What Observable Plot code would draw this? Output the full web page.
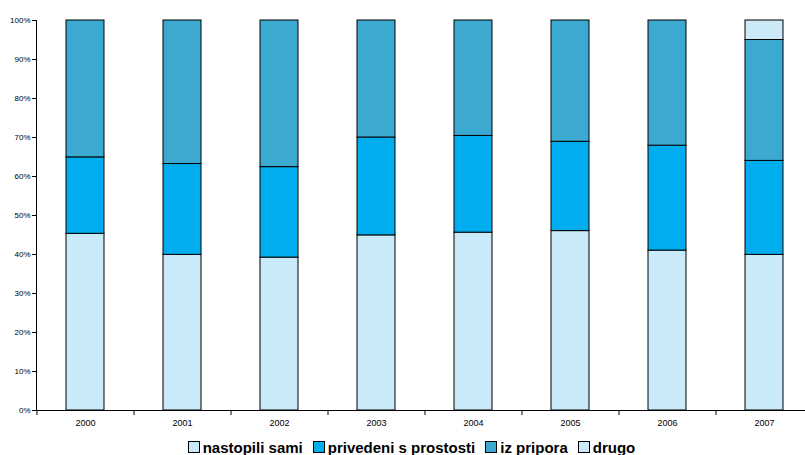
<!DOCTYPE html>
<html><head><meta charset="utf-8">
<script src="https://cdn.jsdelivr.net/npm/d3@7"></script>
<script src="https://cdn.jsdelivr.net/npm/@observablehq/plot@0.6"></script>
<style>
html,body{margin:0;padding:0;background:#fff;overflow:hidden;width:805px;height:455px;}
#legend{display:flex;justify-content:center;align-items:center;gap:10px;font:bold 15px "Liberation Sans",Arial,sans-serif;height:22px;margin-left:18px;margin-top:2px;}
#legend span.item{display:flex;align-items:center;}
#legend span.sw{display:inline-block;width:10px;height:10px;border:1.5px solid #000;margin-right:3px;}
</style></head>
<body>
<div id="chart"></div>
<div id="legend"></div>
<script>
const years = ["2000","2001","2002","2003","2004","2005","2006","2007"];
const series = ["nastopili sami","privedeni s prostosti","iz pripora","drugo"];
const nastopili = [45.3, 39.9, 39.2, 44.9, 45.6, 46.0, 41.0, 39.9];
const privedeni = [19.6, 23.3, 23.2, 25.1, 24.8, 22.9, 26.9, 24.1];
const izPripora = [35.1, 36.8, 37.6, 30.0, 29.6, 31.1, 32.1, 31.0];
const drugo     = [0, 0, 0, 0, 0, 0, 0, 5.0];
const colors = ["#C8EAF9","#00AEEF","#3BA9D0","#CCE9F7"];
const yTicks = [0,10,20,30,40,50,60,70,80,90,100];

const valuesBySeries = [nastopili, privedeni, izPripora, drugo];
const data = [];
years.forEach((y, i) => {
  series.forEach((s, j) => data.push({year: y, series: s, value: valuesBySeries[j][i]}));
});

const font = '"Liberation Sans", Arial, sans-serif';
const chart = Plot.plot({
  width: 805,
  height: 434,
  marginTop: 20,
  marginBottom: 24,
  marginLeft: 36,
  marginRight: -7.5,
  style: {fontFamily: font, background: "#fff", color: "#000"},
  x: {domain: years, paddingInner: 0.608, paddingOuter: 0.304, align: 0.5},
  y: {domain: [0, 100]},
  color: {domain: series, range: colors},
  marks: [
    Plot.barY(data.filter(d => d.value > 0), {x: "year", y: "value", fill: "series", stroke: "#000", strokeWidth: 1, order: series}),
    Plot.axisY({ticks: yTicks, tickFormat: d => d + "%", tickSize: 4, tickPadding: 2, fontSize: 8, label: null, stroke: "#000"}),
    Plot.frame({anchor: "left", stroke: "#000"}),
    Plot.ruleY([0], {stroke: "#000"}),
    Plot.axisX({tickSize: 5, text: null, dx: -48.5, label: null, stroke: "#000"}),
    Plot.axisX({tickSize: 0, tickPadding: 9, fontSize: 9, label: null})
  ]
});
document.getElementById("chart").appendChild(chart);

const leg = document.getElementById("legend");
series.forEach((s, j) => {
  const it = document.createElement("span");
  it.className = "item";
  const sw = document.createElement("span");
  sw.className = "sw";
  sw.style.background = colors[j];
  it.appendChild(sw);
  it.appendChild(document.createTextNode(s));
  leg.appendChild(it);
});
</script>
</body></html>
